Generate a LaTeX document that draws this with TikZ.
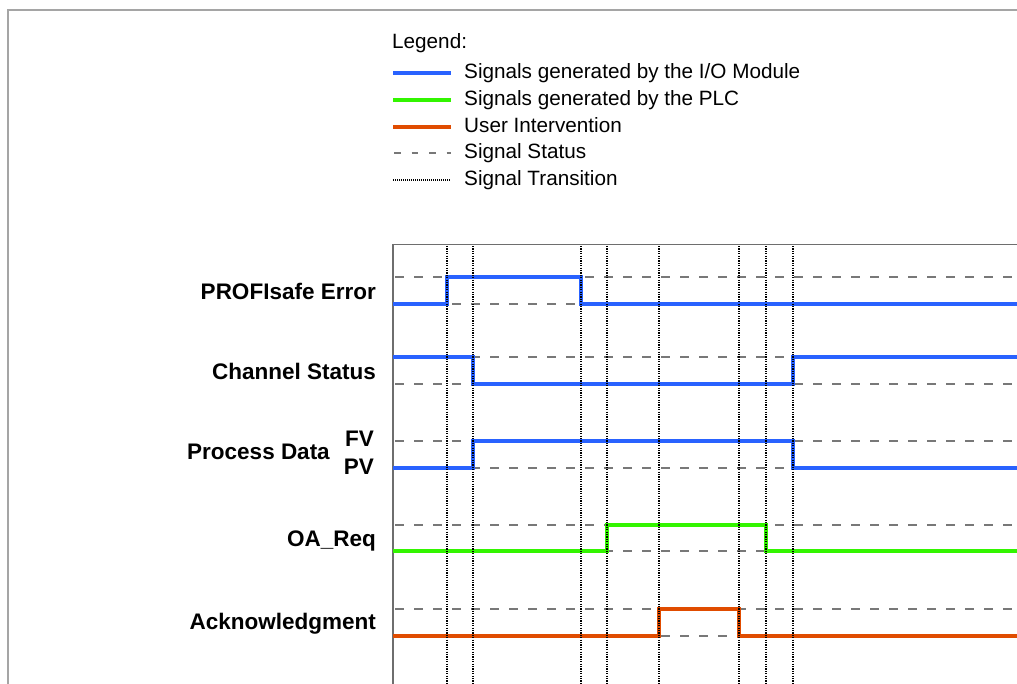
\documentclass[tikz,border=0pt]{standalone}
\usepackage{fontspec}
\setmainfont{Liberation Sans}
\definecolor{sigblue}{RGB}{41,98,255}
\definecolor{siggreen}{RGB}{51,245,0}
\definecolor{sigorange}{RGB}{224,76,0}
\definecolor{framegray}{RGB}{165,165,165}
\definecolor{boxgray}{RGB}{110,110,110}
\definecolor{dashgray}{RGB}{120,120,120}
\tikzset{
  lbl/.style={anchor=base east, inner sep=0pt, font=\fontsize{22.5}{26}\selectfont\bfseries},
  legtxt/.style={anchor=base west, inner sep=0pt, font=\fontsize{20.7}{24}\selectfont},
  sig/.style={line width=4pt, line join=miter},
  status/.style={dashgray, line width=1.3pt, dash pattern=on 9pt off 10pt},
  trans/.style={black, line width=1.4pt, dash pattern=on 1.2pt off 1.2pt},
}
\begin{document}
\begin{tikzpicture}[x=1pt,y=-1pt]
\useasboundingbox (0,0) rectangle (1017,684);
% outer frame
\draw[framegray, line width=1.6pt] (8,684) -- (8,10) -- (1017,10);
% legend
\node[legtxt] (leg) at (392,48.5) {Legend:};
\node[legtxt] (l1) at (464,79) {Signals generated by the I/O Module};
\node[legtxt] (l2) at (464,105.7) {Signals generated by the PLC};
\node[legtxt] (l3) at (464,132.3) {User Intervention};
\node[legtxt] (l4) at (464,159) {Signal Status};
\node[legtxt] (l5) at (464,186) {Signal Transition};
\draw[sig, sigblue] (393,73.3) -- (451,73.3);
\draw[sig, siggreen] (393,99.7) -- (451,99.7);
\draw[sig, sigorange] (393,126.7) -- (451,126.7);
\draw[dashgray, line width=1.3pt, dash pattern=on 6.5pt off 11pt] (394,153) -- (451,153);
\draw[black, line width=1.4pt, dash pattern=on 1pt off 1pt] (393,180) -- (451,180);
% plot box
\draw[boxgray, line width=1.2pt] (393,684) -- (393,244.5) -- (1017,244.5);
% signal status levels
\foreach \y in {277,304,357,384,441,468,525,551,609,636}
  \draw[status] (395,\y) -- (1017,\y);
% labels
\node[lbl] (pe) at (376,299.3) {PROFIsafe Error};
\node[lbl] (cs) at (376,379.3) {Channel Status};
\node[lbl] (pd) at (330,459.3) {Process Data};
\node[lbl] (fv) at (374,446.7) {FV};
\node[lbl] (pv) at (374,474) {PV};
\node[lbl] (oa) at (376,546) {OA\_Req};
\node[lbl] (ack) at (376,629.3) {Acknowledgment};
% signals
\draw[sig, sigblue] (393,304) -- (447,304) -- (447,277) -- (581,277) -- (581,304) -- (1017,304);
\draw[sig, sigblue] (393,357) -- (473,357) -- (473,384) -- (793,384) -- (793,357) -- (1017,357);
\draw[sig, sigblue] (393,468) -- (473,468) -- (473,441) -- (793,441) -- (793,468) -- (1017,468);
\draw[sig, siggreen] (393,551) -- (607,551) -- (607,525) -- (766,525) -- (766,551) -- (1017,551);
\draw[sig, sigorange] (393,636) -- (659,636) -- (659,609) -- (739,609) -- (739,636) -- (1017,636);
% transitions
\foreach \x in {447,473,581,607,659,739,766,793}
  \draw[trans] (\x,246) -- (\x,684);
\end{tikzpicture}
\end{document}
